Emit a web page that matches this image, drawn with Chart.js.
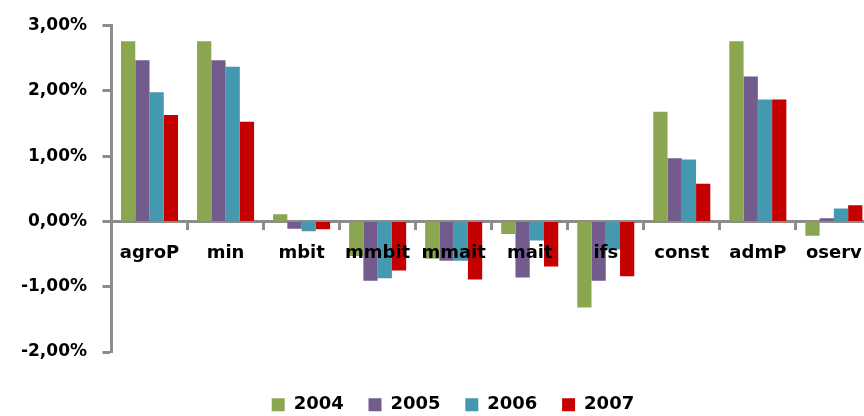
<!DOCTYPE html>
<html>
<head>
<meta charset="utf-8">
<script src="https://cdn.jsdelivr.net/npm/chart.js@4/dist/chart.umd.min.js"></script>
<style>
  html, body { margin: 0; padding: 0; background: #fff; overflow: hidden; }
  canvas { display: block; }
</style>
</head>
<body>
<canvas id="chart" width="876" height="416"></canvas>
<script>
// Sector categories and yearly change (percent)
const categories = ['agroP', 'min', 'mbit', 'mmbit', 'mmait', 'mait', 'ifs', 'const', 'admP', 'oserv'];
const years = ['2004', '2005', '2006', '2007'];
const values2004 = [2.76, 2.76, 0.11, -0.53, -0.57, -0.19, -1.32, 1.68, 2.76, -0.22];
const values2005 = [2.47, 2.47, -0.11, -0.91, -0.60, -0.86, -0.91, 0.97, 2.22, 0.05];
const values2006 = [1.98, 2.37, -0.15, -0.87, -0.60, -0.29, -0.43, 0.95, 1.87, 0.20];
const values2007 = [1.63, 1.53, -0.12, -0.75, -0.89, -0.69, -0.84, 0.58, 1.87, 0.25];
const yTickLabels = ['-2,00%', '-1,00%', '0,00%', '1,00%', '2,00%', '3,00%'];
const colors = ['#8ba651', '#735b8e', '#4499b1', '#c40000'];

const series = [values2004, values2005, values2006, values2007];
const axisGray = '#8c8c8c';
const boldFont = (size) => ({ family: "'DejaVu Sans', sans-serif", weight: 'bold', size: size });

// Moves the legend row down below the plot and slightly to the right
const legendShift = {
  id: 'legendShift',
  afterLayout(chart) {
    const lg = chart.legend;
    if (lg) {
      lg.top += 19; lg.bottom += 19;
      lg.left += 12.7; lg.right += 12.7;
    }
  }
};

new Chart(document.getElementById('chart'), {
  type: 'bar',
  data: {
    labels: categories,
    datasets: series.map((vals, i) => ({
      label: years[i],
      data: vals,
      backgroundColor: colors[i],
      borderWidth: 0,
      categoryPercentage: 0.75,
      barPercentage: 1.0
    }))
  },
  options: {
    responsive: false,
    animation: false,
    layout: { padding: { left: 8, right: 3.5, top: 25, bottom: 11.3 } },
    plugins: {
      tooltip: { enabled: false },
      legend: {
        position: 'bottom',
        labels: {
          color: '#000',
          font: boldFont(18),
          boxWidth: 13,
          boxHeight: 13,
          padding: 24.7
        }
      }
    },
    scales: {
      x: {
        position: { y: 0 },
        offset: true,
        grid: {
          offset: true,
          drawOnChartArea: false,
          drawTicks: true,
          tickLength: 7,
          tickWidth: 3,
          tickColor: axisGray
        },
        border: { display: true, color: axisGray, width: 3 },
        ticks: {
          z: 1,
          color: '#000',
          font: boldFont(18),
          padding: 14,
          maxRotation: 0,
          autoSkip: false
        }
      },
      y: {
        min: -2,
        max: 3,
        ticks: {
          stepSize: 1,
          color: '#000',
          font: boldFont(17),
          padding: 15.5,
          callback: (v, i) => yTickLabels[i]
        },
        grid: {
          drawOnChartArea: false,
          drawTicks: true,
          tickLength: 9,
          tickWidth: 3,
          tickColor: axisGray
        },
        border: { display: true, color: axisGray, width: 3 },
        afterFit(scale) { scale.width = 103.5; }
      }
    }
  },
  plugins: [legendShift]
});
</script>
</body>
</html>
